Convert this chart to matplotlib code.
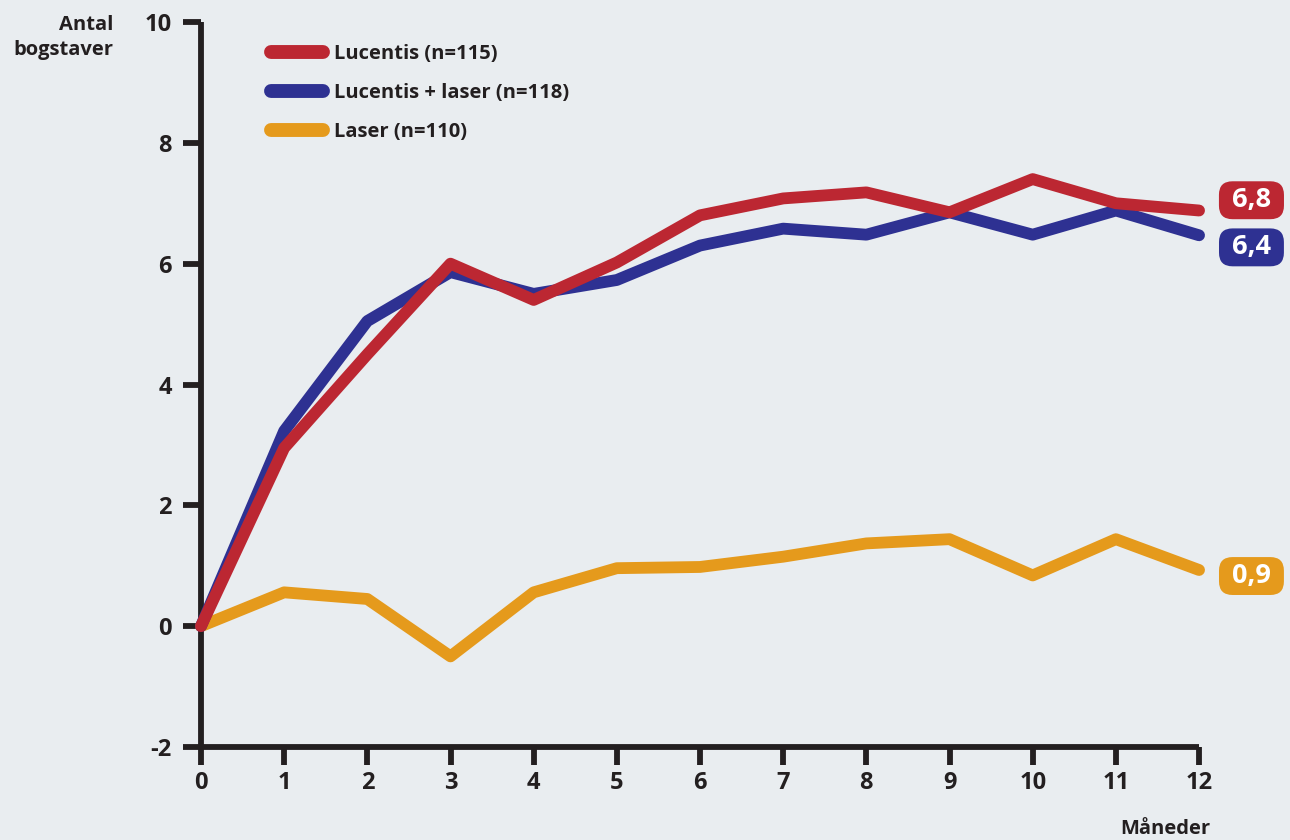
import matplotlib.pyplot as plt

months = list(range(13))
lucentis = [0, 2.95, 4.5, 6.0, 5.4, 6.02, 6.8, 7.08, 7.18, 6.85, 7.4, 7.0, 6.88]
lucentis_laser = [0, 3.23, 5.05, 5.86, 5.5, 5.73, 6.3, 6.58, 6.48, 6.85, 6.48, 6.88, 6.47]
laser = [0, 0.56, 0.45, -0.5, 0.56, 0.96, 0.98, 1.15, 1.37, 1.44, 0.84, 1.44, 0.93]

series_names = ["Lucentis (n=115)", "Lucentis + laser (n=118)", "Laser (n=110)"]
end_labels = ["6,8", "6,4", "0,9"]
yticks = [-2, 0, 2, 4, 6, 8, 10]

RED = "#BC2732"
BLUE = "#2E3192"
ORANGE = "#E59A1C"
BG = "#E9EDF0"
INK = "#231F20"

plt.rcParams["font.family"] = ["Open Sans", "DejaVu Sans"]
plt.rcParams["font.weight"] = "bold"

fig = plt.figure(figsize=(12.9, 8.4), dpi=100, facecolor=BG)
ax = fig.add_axes([0.1558, 0.1107, 0.9295 - 0.1558, 0.9738 - 0.1107])
ax.set_facecolor(BG)

lines = []
for vals, col, name, z in [(lucentis, RED, series_names[0], 4),
                           (lucentis_laser, BLUE, series_names[1], 3),
                           (laser, ORANGE, series_names[2], 2)]:
    ln, = ax.plot(months, vals, color=col, lw=8.5, solid_capstyle="round",
                  solid_joinstyle="round", clip_on=False, zorder=z, label=name)
    lines.append(ln)

ax.set_xlim(0, 12)
ax.set_ylim(-2, 10)
ax.set_xticks(months)
ax.set_yticks(yticks)
ax.set_yticklabels([str(t) for t in yticks])

for side in ["top", "right"]:
    ax.spines[side].set_visible(False)
for side in ["left", "bottom"]:
    ax.spines[side].set_linewidth(4.2)
    ax.spines[side].set_color(INK)
    ax.spines[side].set_capstyle("butt")

ax.tick_params(axis="both", direction="out", length=13, width=4.2, color=INK,
               labelsize=17, labelcolor=INK)
ax.tick_params(axis="y", pad=8)
ax.tick_params(axis="x", pad=4)

leg = ax.legend(handles=lines, loc="upper left", bbox_to_anchor=(0.052, 0.995),
                frameon=False, fontsize=14.5, handlelength=2.6, handletextpad=0.55,
                labelspacing=0.95)
for h in leg.legend_handles:
    h.set_linewidth(10)
for t in leg.get_texts():
    t.set_color(INK)

fig.text(113 / 1290, 1 - 25 / 840, "Antal", ha="right", va="center",
         fontsize=14.5, color=INK)
fig.text(113 / 1290, 1 - 50 / 840, "bogstaver", ha="right", va="center",
         fontsize=14.5, color=INK)
fig.text(1165 / 1290, 1 - 829 / 840, "Måneder", ha="center", va="center",
         fontsize=14.5, color=INK)

# end value boxes
offsets = [0.17, -0.2, -0.1]
for vals, col, lab, off in zip([lucentis, lucentis_laser, laser],
                               [RED, BLUE, ORANGE], end_labels, offsets):
    ax.text(12.63, vals[-1] + off, " " + lab + " ", ha="center", va="center",
            fontsize=19.5, color="white", clip_on=False,
            bbox=dict(boxstyle="round,pad=0.22,rounding_size=0.5",
                      fc=col, ec="none"))

fig.savefig("out.png", dpi=100, facecolor=BG)
